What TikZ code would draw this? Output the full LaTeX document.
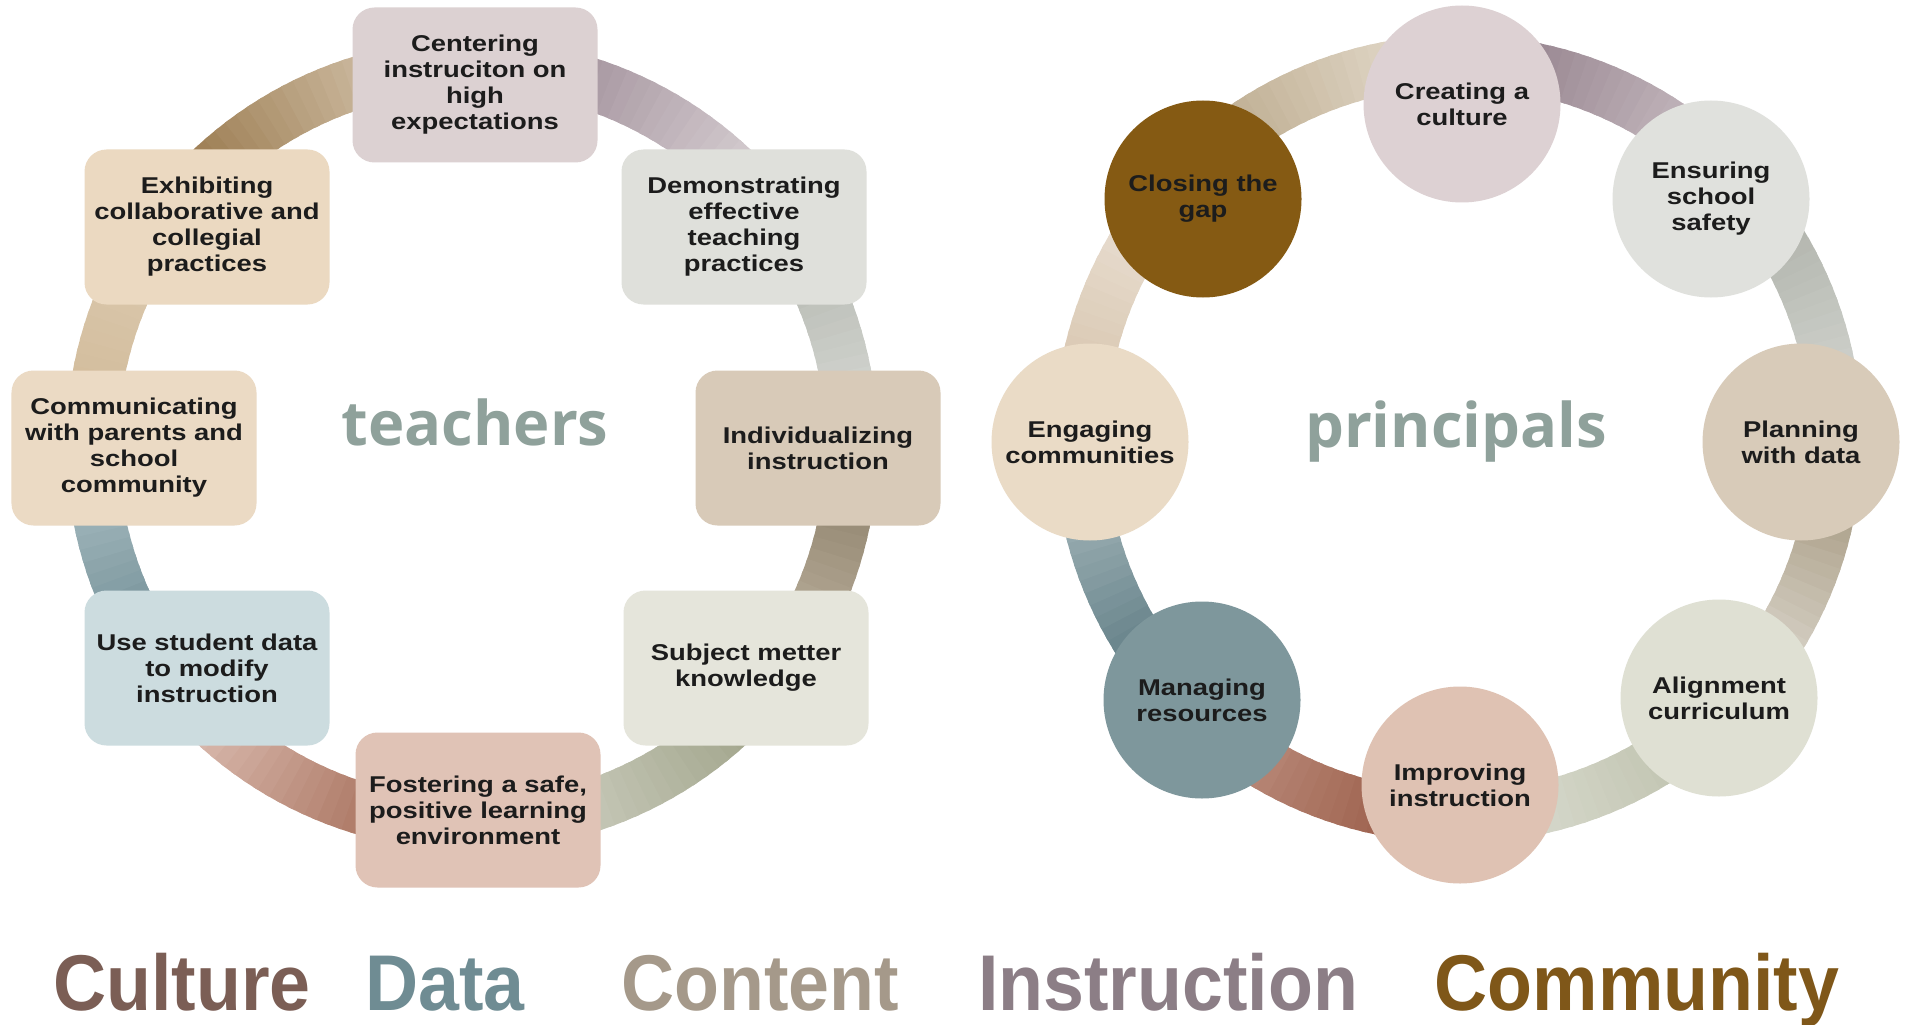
\documentclass[tikz,border=0pt]{standalone}
\usepackage{fontspec}
\usepackage{xcolor}
\setmainfont{Liberation Sans}
\newfontfamily\boxfont{Liberation Sans}[FakeStretch=1.2]
\newfontfamily\keyfont{Liberation Sans}[FakeStretch=0.93]
\newfontfamily\hubfont{Open Sans}

% fills
\definecolor{txt}{HTML}{1C1C1C}
\definecolor{hubgray}{HTML}{8FA19B}
\definecolor{cCent}{HTML}{DCD1D2}
\definecolor{cDemo}{HTML}{DFE0DB}
\definecolor{cIndiv}{HTML}{D8CAB8}
\definecolor{cSubj}{HTML}{E5E5DB}
\definecolor{cFost}{HTML}{E0C3B6}
\definecolor{cUse}{HTML}{CCDCDF}
\definecolor{cComm}{HTML}{EBDAC4}
\definecolor{cExhib}{HTML}{EBD9C1}
\definecolor{cCreat}{HTML}{DDD1D3}
\definecolor{cEnsur}{HTML}{E0E1DD}
\definecolor{cPlan}{HTML}{D8CBB9}
\definecolor{cAlign}{HTML}{DFE0D3}
\definecolor{cImprov}{HTML}{DFC2B3}
\definecolor{cManag}{HTML}{7E979C}
\definecolor{cEngag}{HTML}{EADBC6}
\definecolor{cClose}{HTML}{855A13}
% words
\definecolor{kCult}{HTML}{7B5E55}
\definecolor{kData}{HTML}{6F8C93}
\definecolor{kCont}{HTML}{A5998A}
\definecolor{kInst}{HTML}{8C7E86}
\definecolor{kComm}{HTML}{7F5719}

% one shaded piece of a ring: centre, radius, from, to, colour at start, colour at end
\newcommand{\bandarc}[6]{%
  \definecolor{bandA}{HTML}{#5}%
  \definecolor{bandB}{HTML}{#6}%
  \foreach \k in {0,...,23}{%
    \pgfmathsetmacro{\angA}{(#3)+((#4)-(#3))*\k/24}%
    \pgfmathsetmacro{\angB}{(#3)+((#4)-(#3))*(\k+1.4)/24}%
    \pgfmathtruncatemacro{\mixp}{100-100*\k/23}%
    \draw[band, draw=bandA!\mixp!bandB] (#1) ++(\angA:#2) arc[start angle=\angA, end angle=\angB, radius=#2];
  }%
}

\begin{document}
\begin{tikzpicture}[
    tbox/.style={fill=#1, rounded corners=0.22cm, minimum width=2.45cm, minimum height=1.55cm,
        align=center, inner sep=1pt, text=txt, font=\boxfont\bfseries\fontsize{6.5}{7.4}\selectfont},
    pcirc/.style={circle, fill=#1, minimum size=1.97cm, align=center, inner sep=0pt,
        text=txt, font=\boxfont\bfseries\fontsize{6.5}{7.4}\selectfont},
    band/.style={line width=0.52cm},
    hub/.style={anchor=base, text=hubgray, font=\hubfont\bfseries\fontsize{17.5}{20}\selectfont},
    key/.style={anchor=base, font=\keyfont\bfseries\fontsize{22.5}{26}\selectfont}
  ]
    \fill[white] (0,0) rectangle (19.09,10.24);
    \useasboundingbox (0,0) rectangle (19.09,10.24);

    \coordinate (tc) at (4.72,5.79);
    \coordinate (pc) at (14.58,5.85);

    % teachers ring
    \bandarc{tc}{3.8}{180}{135}{D0B996}{E0D0BA}
    \bandarc{tc}{3.8}{135}{90}{9C7D52}{E3D6C4}
    \bandarc{tc}{3.8}{90}{45}{8E7A87}{D3CACE}
    \bandarc{tc}{3.8}{45}{0}{A3A69D}{DADCD8}
    \bandarc{tc}{3.8}{0}{-45}{877A63}{CFC5B4}
    \bandarc{tc}{3.8}{-45}{-90}{A2A58C}{DADCD0}
    \bandarc{tc}{3.8}{-90}{-135}{96563F}{D9BAAE}
    \bandarc{tc}{3.8}{-135}{-180}{557680}{B0C3C7}

    % principals ring
    \bandarc{pc}{3.78}{180}{135}{D3BFA5}{EFE7DE}
    \bandarc{pc}{3.78}{135}{90}{B6A383}{E8E0D3}
    \bandarc{pc}{3.78}{90}{45}{8A7682}{CEC3C8}
    \bandarc{pc}{3.78}{45}{0}{A4A79F}{D9DBD6}
    \bandarc{pc}{3.78}{0}{-45}{9A8C71}{E9E6DF}
    \bandarc{pc}{3.78}{-45}{-90}{B9BCA6}{DEE0D6}
    \bandarc{pc}{3.78}{-90}{-135}{93523C}{C59A8C}
    \bandarc{pc}{3.78}{-135}{-180}{4C6C75}{B3C3C6}

    \node[tbox=cCent] (cent) at (4.75,9.39) {Centering\\instruciton on\\high\\expectations};
    \node[tbox=cDemo] (demo) at (7.44,7.97) {Demonstrating\\effective\\teaching\\practices};
    \node[tbox=cIndiv] (indiv) at (8.18,5.76) {Individualizing\\instruction};
    \node[tbox=cSubj] (subj) at (7.46,3.56) {Subject metter\\knowledge};
    \node[tbox=cFost] (fost) at (4.78,2.14) {Fostering a safe,\\positive learning\\environment};
    \node[tbox=cUse] (usedata) at (2.07,3.56) {Use student data\\to modify\\instruction};
    \node[tbox=cComm] (comm) at (1.34,5.76) {Communicating\\with parents and\\school\\community};
    \node[tbox=cExhib] (exhib) at (2.07,7.97) {Exhibiting\\collaborative and\\collegial\\practices};

    \node[pcirc=cCreat] (creat) at (14.62,9.20) {Creating a\\culture};
    \node[pcirc=cEnsur] (ensur) at (17.11,8.25) {Ensuring\\school\\safety};
    \node[pcirc=cPlan] (plan) at (18.01,5.82) {Planning\\with data};
    \node[pcirc=cAlign] (align) at (17.19,3.26) {Alignment\\curriculum};
    \node[pcirc=cImprov] (improv) at (14.60,2.39) {Improving\\instruction};
    \node[pcirc=cManag] (manag) at (12.02,3.24) {Managing\\resources};
    \node[pcirc=cEngag] (engag) at (10.90,5.82) {Engaging\\communities};
    \node[pcirc=cClose] (close) at (12.03,8.25) {Closing the\\gap};

    \node[hub] (teach) at (4.75,5.79) {teachers};
    \node[hub] (princ) at (14.56,5.77) {principals};

    \node[key, text=kCult] (cult) at (1.82,0.14) {Culture};
    \node[key, text=kData] (data) at (4.45,0.14) {Data};
    \node[key, text=kCont] (cont) at (7.60,0.14) {Content};
    \node[key, text=kInst] (inst) at (11.68,0.14) {Instruction};
    \node[key, text=kComm] (commu) at (16.37,0.14) {Community};
\end{tikzpicture}
\end{document}
